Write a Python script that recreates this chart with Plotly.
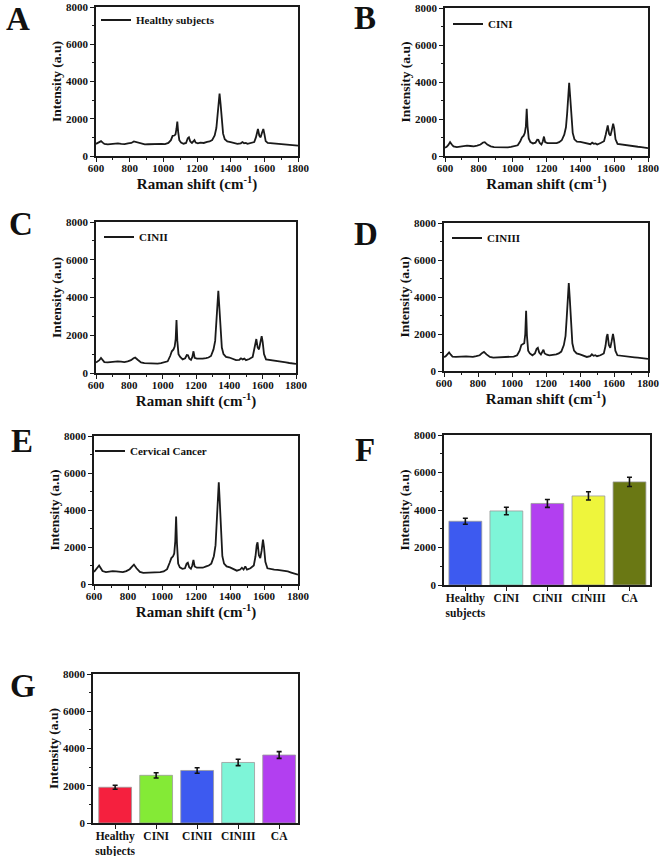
import plotly.graph_objects as go

W, H = 661, 856

# ---------------- data ----------------
raman_shift = [
    600, 610, 620, 630, 640, 650, 670, 690, 710, 730,
    750, 770, 790, 810, 825, 835, 850, 870, 890, 910,
    930, 950, 970, 990, 1010, 1030, 1045, 1055, 1065, 1072,
    1078, 1083, 1088, 1095, 1105, 1120, 1135, 1145, 1152, 1160,
    1170, 1178, 1185, 1192, 1205, 1220, 1240, 1260, 1275, 1290,
    1305, 1315, 1322, 1328, 1334, 1340, 1347, 1355, 1365, 1380,
    1400, 1420, 1440, 1460, 1470, 1480, 1490, 1500, 1520, 1540,
    1550, 1557, 1562, 1570, 1578, 1586, 1594, 1600, 1608, 1620,
    1640, 1660, 1680, 1700, 1720, 1740, 1760, 1780, 1800,
]

healthy_spectrum = [
    650, 700, 720, 800, 720, 650, 620, 640, 660, 680,
    650, 640, 680, 700, 780, 760, 700, 650, 620, 630,
    640, 620, 640, 650, 640, 700, 850, 1080, 1100, 1150,
    1450, 1850, 1300, 850, 720, 660, 700, 950, 1000, 780,
    700, 760, 850, 720, 680, 720, 700, 760, 780, 850,
    1100, 1500, 2200, 2900, 3350, 2800, 1800, 1200, 900, 780,
    740, 700, 650, 680, 750, 680, 700, 650, 700, 750,
    1000, 1350, 1450, 1100, 1000, 1250, 1450, 1200, 800, 700,
    680, 660, 650, 640, 620, 610, 600, 580, 560,
]

cin1_spectrum = [
    450, 500, 600, 750, 620, 520, 480, 520, 550, 560,
    540, 520, 560, 620, 730, 750, 620, 520, 480, 470,
    480, 460, 470, 490, 520, 580, 800, 1000, 1100, 1250,
    1600, 2550, 1600, 950, 750, 680, 720, 880, 870, 700,
    620, 780, 1050, 750, 700, 700, 680, 700, 750, 850,
    1150, 1550, 2300, 3300, 3950, 3200, 2000, 1250, 900, 780,
    760, 720, 640, 640, 720, 660, 680, 620, 700, 800,
    1150, 1550, 1650, 1200, 1100, 1400, 1750, 1500, 900, 650,
    620, 600, 580, 540, 520, 500, 480, 440, 420,
]

cin2_spectrum = [
    550, 600, 680, 800, 680, 580, 560, 590, 610, 620,
    600, 580, 620, 680, 780, 820, 700, 560, 520, 510,
    500, 490, 500, 520, 560, 620, 900, 1150, 1250, 1400,
    1800, 2800, 1700, 1000, 850, 720, 780, 950, 940, 760,
    700, 850, 1150, 800, 760, 750, 760, 790, 820, 900,
    1250, 1700, 2600, 3700, 4350, 3500, 2200, 1350, 1000, 850,
    820, 740, 680, 700, 780, 720, 760, 680, 740, 850,
    1250, 1650, 1800, 1350, 1250, 1600, 1950, 1650, 1000, 720,
    700, 680, 650, 620, 590, 560, 530, 500, 480,
]

cin3_spectrum = [
    750, 800, 900, 1000, 880, 780, 760, 780, 800, 790,
    780, 760, 800, 850, 980, 1030, 900, 760, 720, 730,
    740, 720, 740, 760, 780, 850, 1100, 1400, 1450, 1500,
    2000, 3250, 1900, 1100, 950, 850, 950, 1200, 1250, 1000,
    900, 1000, 1150, 950, 880, 850, 870, 900, 950, 1050,
    1400, 1900, 2900, 4100, 4750, 3900, 2500, 1500, 1100, 950,
    900, 820, 760, 800, 900, 820, 850, 800, 850, 950,
    1350, 1850, 2000, 1400, 1250, 1600, 2000, 1700, 1100, 850,
    820, 800, 780, 760, 740, 720, 700, 680, 650,
]

cancer_spectrum = [
    650, 750, 850, 1000, 850, 700, 640, 680, 700, 680,
    660, 640, 700, 800, 950, 1050, 850, 650, 600, 600,
    610, 600, 620, 640, 680, 800, 1150, 1400, 1500, 1650,
    2300, 3650, 2200, 1100, 900, 820, 850, 1100, 1150, 900,
    820, 1000, 1300, 950, 880, 870, 880, 950, 1000, 1100,
    1500, 2100, 3300, 4700, 5500, 4400, 2700, 1500, 1100, 950,
    900, 820, 720, 780, 880, 780, 950, 780, 850, 1000,
    1500, 2100, 2250, 1550, 1400, 1800, 2400, 2000, 1200, 850,
    800, 780, 760, 740, 720, 680, 620, 560, 500,
]

spectrum_names = ["Healthy subjects", "CINI", "CINII", "CINIII", "Cervical Cancer"]

bar_categories = ["Healthy<br>subjects", "CINI", "CINII", "CINIII", "CA"]
f_values = [3400, 3950, 4350, 4750, 5500]
f_errors = [160, 200, 210, 220, 250]
f_colors = ["#3d5af0", "#7ef5d8", "#b23ff0", "#eef53c", "#6a7814"]
g_values = [1920, 2560, 2820, 3250, 3650]
g_errors = [110, 140, 150, 170, 180]
g_colors = ["#f5203e", "#84ea36", "#3d5af0", "#7ef5d8", "#b23ff0"]

# ---------------- layout helpers ----------------
def dx(l, r):
    return [l / W, r / W]

def dy(top, bottom):
    return [1 - bottom / H, 1 - top / H]

FONT = "Liberation Serif"
AX_COLOR = "#1a1a1a"

panels = {
    # id: (x-left, x-right, y-top, y-bottom)
    1: (96, 298, 7, 156),
    2: (445, 648, 8, 156),
    3: (96, 296, 222, 373),
    4: (444, 648, 223, 371),
    5: (94, 298, 436, 584),
    6: (444, 650, 435, 585),
    7: (93, 298, 674, 823),
}

legend_pos = {1: (96, 20), 2: (448, 24), 3: (99, 237), 4: (447, 238), 5: (90, 451)}
letters = {1: ("A", 18, 19), 2: ("B", 365, 18), 3: ("C", 21, 224), 4: ("D", 366, 234),
           5: ("E", 22, 441), 6: ("F", 365, 450), 7: ("G", 23, 686)}

fig = go.Figure()

spectra = [healthy_spectrum, cin1_spectrum, cin2_spectrum, cin3_spectrum, cancer_spectrum]
for i, (ys, name) in enumerate(zip(spectra, spectrum_names), start=1):
    sfx = "" if i == 1 else str(i)
    fig.add_trace(go.Scatter(
        x=raman_shift, y=ys, mode="lines", name=name,
        line=dict(color="#1a1a1a", width=1.8),
        xaxis="x" + sfx, yaxis="y" + sfx,
        legend="legend" + sfx, showlegend=True,
    ))

fig.add_trace(go.Bar(
    x=bar_categories, y=f_values, marker=dict(color=f_colors, line=dict(color="#9a9a9a", width=0.8)),
    width=0.8, error_y=dict(type="data", array=f_errors, color="#111", thickness=1.6, width=2.5),
    xaxis="x6", yaxis="y6", showlegend=False,
))
fig.add_trace(go.Bar(
    x=bar_categories, y=g_values, marker=dict(color=g_colors, line=dict(color="#9a9a9a", width=0.8)),
    width=0.8, error_y=dict(type="data", array=g_errors, color="#111", thickness=1.6, width=2.5),
    xaxis="x7", yaxis="y7", showlegend=False,
))

tick_font = dict(family=FONT, size=11, color="#111", weight="bold")
layout = dict(
    width=W, height=H, margin=dict(l=0, r=0, t=0, b=0, autoexpand=False),
    paper_bgcolor="white", plot_bgcolor="white",
    font=dict(family=FONT, color="#111"),
    annotations=[], bargap=0.2,
)

for i, (l, r, t, b) in panels.items():
    sfx = "" if i == 1 else str(i)
    common = dict(showline=True, linecolor=AX_COLOR, linewidth=1.5, mirror=True,
                  ticks="outside", ticklen=4, tickwidth=1.3, tickcolor=AX_COLOR,
                  showgrid=False, zeroline=False, tickfont=tick_font, automargin=False)
    if i <= 5:
        xa = dict(common, domain=dx(l, r), range=[600, 1800], dtick=200, tick0=600,
                  ticklabelstandoff=-3,
                  minor=dict(ticks="outside", ticklen=2, dtick=100, tickcolor=AX_COLOR),
                  title=dict(text="Raman shift (cm<sup>-1</sup>)", standoff=1,
                             font=dict(family=FONT, size=15, weight="bold", color="#111")),
                  anchor="y" + sfx)
    else:
        rng = [-0.52, 4.5] if i == 6 else [-0.54, 4.46]
        xa = dict(common, domain=dx(l, r), range=rng, type="category", anchor="y" + sfx,
                  ticklabelstandoff=-3,
                  tickfont=dict(family=FONT, size=11.5, color="#111", weight="bold"))
    ya = dict(common, domain=dy(t, b), range=[0, 8000], dtick=2000, tick0=0,
              minor=dict(ticks="outside", ticklen=2, dtick=1000, tickcolor=AX_COLOR),
              title=dict(text="Intensity (a.u)", standoff=1,
                         font=dict(family=FONT, size=13.5, weight="bold", color="#111")),
              anchor="x" + sfx)
    layout["xaxis" + sfx] = xa
    layout["yaxis" + sfx] = ya

for i, (lx, ly) in legend_pos.items():
    sfx = "" if i == 1 else str(i)
    layout["legend" + sfx] = dict(
        x=lx / W, y=1 - ly / H, xanchor="left", yanchor="middle",
        bgcolor="rgba(0,0,0,0)", borderwidth=0,
        font=dict(family=FONT, size=11, color="#111", weight="bold"),
        itemwidth=30, tracegroupgap=0,
    )

for i, (txt, cx, cy) in letters.items():
    layout["annotations"].append(dict(
        text=txt, x=cx / W, y=1 - cy / H, xref="paper", yref="paper",
        xanchor="center", yanchor="middle", showarrow=False,
        font=dict(family=FONT, size=33, color="#111", weight="bold"),
    ))

fig.update_layout(**layout)
fig.write_html("out.html", config={"displayModeBar": False},
               post_script="document.body.style.margin='0px';document.body.style.overflow='hidden';")
